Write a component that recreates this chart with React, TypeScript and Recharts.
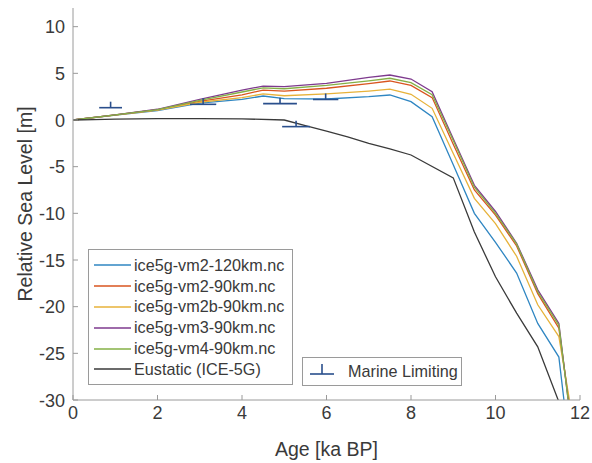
import { ComposedChart, Line, Scatter, ErrorBar, XAxis, YAxis } from 'recharts';

// model output, relative sea level [m] at each age [ka BP]
const AGES = [0, 1, 2, 3, 4, 4.5, 5, 6, 7, 7.5, 8, 8.5, 9, 9.5, 10, 10.5, 11, 11.5, 12];
const VM2_120 = [0, 0.52, 1.0, 1.8, 2.2, 2.57, 2.3, 2.25, 2.5, 2.68, 1.96, 0.36, -4.8, -10.0, -13.1, -16.4, -21.8, -25.4, -44.6];
const VM2_90 = [0, 0.54, 1.1, 2.0, 2.7, 3.2, 3.1, 3.4, 3.9, 4.18, 3.7, 2.4, -2.6, -7.5, -10.2, -13.5, -18.6, -22.3, -39];
const VM2B_90 = [0, 0.53, 1.05, 1.9, 2.4, 2.8, 2.6, 2.8, 3.1, 3.3, 2.75, 1.25, -3.6, -8.4, -11.1, -14.6, -19.8, -23.2, -36.8];
const VM3_90 = [0, 0.56, 1.15, 2.2, 3.2, 3.64, 3.57, 3.93, 4.57, 4.82, 4.39, 3.04, -2.0, -7.0, -9.8, -13.2, -18.2, -21.8, -40.4];
const VM4_90 = [0, 0.55, 1.12, 2.1, 3.0, 3.45, 3.35, 3.7, 4.2, 4.47, 4.0, 2.7, -2.2, -7.2, -10.0, -13.3, -18.4, -22.0, -40.2];

const EUSTATIC_AGES = [0, 0.5, 1, 2, 3, 4, 5, 5.5, 6, 6.5, 7, 7.5, 8, 9, 9.5, 10, 10.5, 11, 11.5];
const EUSTATIC = [0, 0.05, 0.1, 0.14, 0.14, 0.12, 0, -0.6, -1.2, -1.8, -2.5, -3.1, -3.75, -6.2, -12.0, -16.8, -20.7, -24.3, -30.2];

// marine limiting index points
const MARINE_AGE = [0.89, 3.08, 4.9, 5.98, 5.28];
const MARINE_RSL = [1.32, 1.68, 1.75, 2.2, -0.71];
const MARINE_AGE_ERR = [0.27, 0.31, 0.4, 0.3, 0.33];

const SERIES_NAMES = ['ice5g-vm2-120km.nc', 'ice5g-vm2-90km.nc', 'ice5g-vm2b-90km.nc', 'ice5g-vm3-90km.nc', 'ice5g-vm4-90km.nc', 'Eustatic (ICE-5G)'];
const X_TICKS = [0, 2, 4, 6, 8, 10, 12];
const Y_TICKS = [-30, -25, -20, -15, -10, -5, 0, 5, 10];

const COLORS = ['#2f86c2', '#d9541f', '#e7b23a', '#7e3a8e', '#84b046', '#3a3a3a'];
const MARINE = '#2a4f8c';
const AXIS = '#9a9a9a';
const TEXT = '#3a3a3a';
const FONT = '"Liberation Sans", Arial, Helvetica, sans-serif';

const modelData = [VM2_120, VM2_90, VM2B_90, VM3_90, VM4_90].map((vals) => AGES.map((age, i) => ({ age, rsl: vals[i] })));
const eustaticData = EUSTATIC_AGES.map((age, i) => ({ age, rsl: EUSTATIC[i] }));
const marineData = MARINE_AGE.map((age, i) => ({ age, rsl: MARINE_RSL[i], err: MARINE_AGE_ERR[i] }));
const allLines = [...modelData, eustaticData];

const XTick = (p: any) => (
  <g>
    <line x1={p.x} x2={p.x} y1={p.y} y2={p.y - 5} stroke={AXIS} />
    <text x={p.x} y={p.y + 19} textAnchor="middle" fontSize={18} fill={TEXT} fontFamily={FONT}>{p.payload.value}</text>
  </g>
);

const YTick = (p: any) => (
  <g>
    <line x1={p.x} x2={p.x + 5} y1={p.y} y2={p.y} stroke={AXIS} />
    <text x={p.x - 8} y={p.y + 6.5} textAnchor="end" fontSize={18} fill={TEXT} fontFamily={FONT}>{p.payload.value}</text>
  </g>
);

const LimitShape = (p: any) => (
  <line x1={p.cx} x2={p.cx} y1={p.cy} y2={p.cy - 6} stroke={MARINE} strokeWidth={1.6} />
);

export default function App() {
  return (
    <div style={{ position: 'absolute', left: 0, top: 0, width: 592, height: 463, background: '#fff', fontFamily: FONT }}>
      <ComposedChart width={592} height={463} margin={{ top: 8, right: 12, bottom: 0, left: 0 }}>
        <XAxis
          type="number"
          dataKey="age"
          domain={[0, 12]}
          ticks={X_TICKS}
          interval={0}
          allowDataOverflow
          height={63}
          tickSize={0}
          tickMargin={0}
          tickLine={false}
          tick={XTick}
          axisLine={{ stroke: AXIS }}
          label={(props: any) => {
            const vb = props.viewBox || { x: 73, y: 400, width: 507, height: 63 };
            return (
              <text x={vb.x + vb.width / 2} y={456} textAnchor="middle" fontSize={19.5} fill={TEXT} fontFamily={FONT}>
                Age [ka BP]
              </text>
            );
          }}
        />
        <YAxis
          type="number"
          domain={[-30, 12]}
          ticks={Y_TICKS}
          interval={0}
          allowDataOverflow
          width={73}
          tickSize={0}
          tickMargin={0}
          tickLine={false}
          tick={YTick}
          axisLine={{ stroke: AXIS }}
          label={(props: any) => {
            const vb = props.viewBox || { x: 0, y: 8, width: 73, height: 392 };
            const cy = vb.y + vb.height / 2;
            return (
              <text x={25} y={cy} transform={`rotate(-90, 25, ${cy})`} dy={7} textAnchor="middle" fontSize={19.5} fill={TEXT} fontFamily={FONT}>
                Relative Sea Level [m]
              </text>
            );
          }}
        />
        {allLines.map((d, i) => (
          <Line
            key={SERIES_NAMES[i]}
            data={d}
            dataKey="rsl"
            type="linear"
            stroke={COLORS[i]}
            strokeWidth={1.3}
            dot={false}
            activeDot={false}
            isAnimationActive={false}
          />
        ))}
        <Scatter data={marineData} dataKey="rsl" fill={MARINE} shape={LimitShape} isAnimationActive={false}>
          <ErrorBar dataKey="err" direction="x" width={0} stroke={MARINE} strokeWidth={1.6} />
        </Scatter>
      </ComposedChart>

      <div style={{ position: 'absolute', left: 88, top: 249, width: 203, height: 134, border: `1px solid ${AXIS}`, background: '#fff', boxSizing: 'content-box' }}>
        {SERIES_NAMES.map((name, i) => (
          <div key={name} style={{ position: 'absolute', left: 0, top: 5 + i * 20.8, height: 20.8, display: 'flex', alignItems: 'center', whiteSpace: 'nowrap' }}>
            <svg width={45} height={20} style={{ display: 'block' }}>
              <line x1={5} x2={42} y1={10} y2={10} stroke={COLORS[i]} strokeWidth={1.3} />
            </svg>
            <span style={{ fontSize: 16.2, color: TEXT }}>{name}</span>
          </div>
        ))}
      </div>

      <div style={{ position: 'absolute', left: 302, top: 357, width: 158, height: 27, border: `1px solid ${AXIS}`, background: '#fff', display: 'flex', alignItems: 'center', whiteSpace: 'nowrap' }}>
        <svg width={45} height={27} style={{ display: 'block' }}>
          <line x1={7} x2={31} y1={16} y2={16} stroke={MARINE} strokeWidth={1.6} />
          <line x1={19} x2={19} y1={6} y2={16} stroke={MARINE} strokeWidth={1.6} />
        </svg>
        <span style={{ fontSize: 16.2, color: TEXT }}>Marine Limiting</span>
      </div>
    </div>
  );
}
